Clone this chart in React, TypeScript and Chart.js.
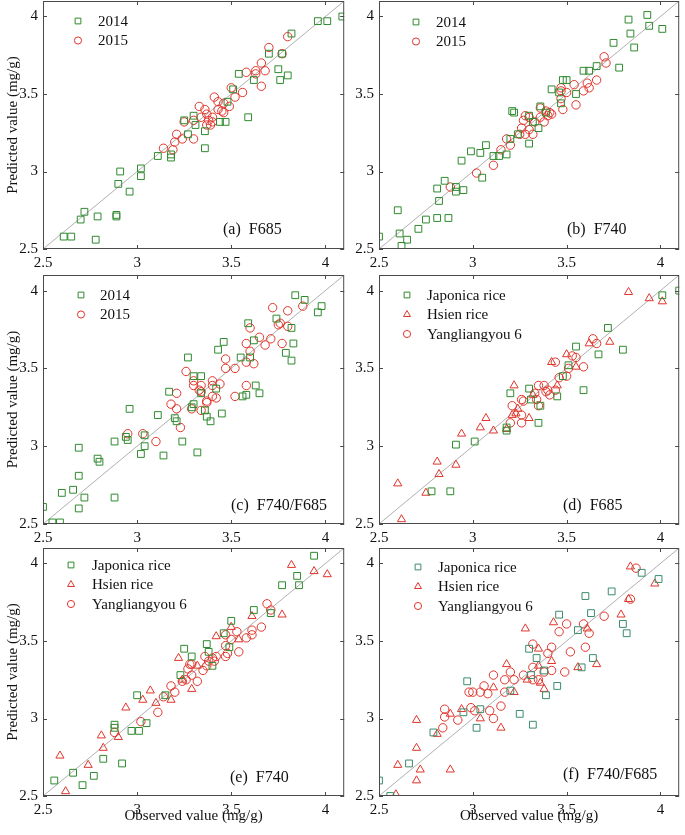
import React, { useEffect, useRef } from 'react';
import { Chart, registerables } from 'chart.js';

Chart.register(...registerables);

type Pt = [number, number];

const AXIS_MIN = 2.5;
const AXIS_MAX = 4.1;
const TICKS = [2.5, 3, 3.5, 4];
const TICK_LABELS = ['2.5', '3', '3.5', '4'];
const Y_TITLE = 'Predicted value (mg/g)';
const X_TITLE = 'Observed value (mg/g)';

const A_2014: Pt[] = [[2.61,2.58],[2.65,2.58],[2.70,2.69],[2.72,2.74],[2.79,2.71],[2.78,2.56],[2.89,2.71],[2.89,2.72],[2.90,2.92],[2.91,3.00],[2.96,2.87],[3.02,3.02],[3.02,2.97],[3.11,3.10],[3.18,3.09],[3.18,3.11],[3.25,3.33],[3.27,3.24],[3.30,3.36],[3.31,3.30],[3.36,3.26],[3.36,3.15],[3.44,3.32],[3.47,3.32],[3.48,3.45],[3.51,3.53],[3.54,3.63],[3.59,3.35],[3.62,3.59],[3.70,3.76],[3.75,3.66],[3.76,3.59],[3.77,3.76],[3.80,3.62],[3.82,3.89],[3.96,3.97],[4.01,3.97],[4.09,4.00]];
const A_2015: Pt[] = [[3.14,3.15],[3.19,3.14],[3.20,3.19],[3.21,3.24],[3.24,3.21],[3.25,3.32],[3.30,3.21],[3.30,3.33],[3.33,3.42],[3.34,3.35],[3.36,3.40],[3.37,3.37],[3.37,3.30],[3.38,3.33],[3.39,3.30],[3.40,3.32],[3.40,3.35],[3.41,3.48],[3.43,3.40],[3.43,3.45],[3.45,3.39],[3.46,3.44],[3.46,3.38],[3.49,3.42],[3.50,3.54],[3.52,3.48],[3.56,3.51],[3.58,3.64],[3.63,3.63],[3.63,3.65],[3.66,3.70],[3.68,3.65],[3.66,3.55],[3.70,3.80],[3.77,3.76],[3.80,3.87]];

const B_2014: Pt[] = [[2.50,2.58],[2.60,2.75],[2.61,2.60],[2.62,2.52],[2.65,2.56],[2.71,2.63],[2.75,2.69],[2.81,2.70],[2.81,2.89],[2.82,2.81],[2.85,2.94],[2.87,2.70],[2.91,2.90],[2.91,2.87],[2.95,2.88],[2.94,3.07],[2.99,3.13],[3.04,3.12],[3.05,2.96],[3.07,3.17],[3.11,3.10],[3.14,3.10],[3.18,3.11],[3.21,3.39],[3.22,3.38],[3.20,3.21],[3.24,3.24],[3.30,3.18],[3.30,3.36],[3.32,3.32],[3.35,3.28],[3.36,3.42],[3.39,3.38],[3.42,3.53],[3.46,3.51],[3.47,3.44],[3.48,3.59],[3.50,3.59],[3.55,3.50],[3.59,3.65],[3.62,3.65],[3.66,3.68],[3.75,3.83],[3.78,3.67],[3.83,3.98],[3.84,3.89],[3.86,3.80],[3.93,4.01],[3.94,3.94],[4.01,3.92]];
const B_2015: Pt[] = [[2.88,2.90],[3.02,2.99],[3.11,3.04],[3.15,3.14],[3.18,3.21],[3.20,3.17],[3.25,3.24],[3.26,3.28],[3.27,3.33],[3.28,3.36],[3.28,3.24],[3.30,3.27],[3.30,3.35],[3.32,3.24],[3.33,3.32],[3.36,3.41],[3.36,3.35],[3.38,3.32],[3.39,3.39],[3.40,3.36],[3.41,3.38],[3.42,3.37],[3.47,3.54],[3.47,3.47],[3.47,3.52],[3.48,3.40],[3.50,3.51],[3.54,3.56],[3.55,3.43],[3.59,3.52],[3.61,3.57],[3.62,3.54],[3.66,3.59],[3.70,3.74],[3.71,3.70]];

const C_2014: Pt[] = [[2.50,2.61],[2.55,2.51],[2.59,2.51],[2.60,2.70],[2.66,2.72],[2.69,2.99],[2.69,2.81],[2.69,2.60],[2.72,2.67],[2.79,2.92],[2.80,2.90],[2.88,3.03],[2.88,2.67],[2.94,3.06],[2.95,3.04],[2.96,3.24],[3.02,2.95],[3.04,3.00],[3.04,3.07],[3.11,3.20],[3.14,2.94],[3.17,3.35],[3.20,3.18],[3.21,3.16],[3.24,3.03],[3.27,3.57],[3.29,3.25],[3.30,3.45],[3.30,3.27],[3.32,2.96],[3.34,3.45],[3.34,3.34],[3.36,3.23],[3.37,3.19],[3.39,3.16],[3.42,3.37],[3.43,3.62],[3.45,3.21],[3.46,3.67],[3.55,3.57],[3.56,3.32],[3.58,3.33],[3.59,3.79],[3.60,3.57],[3.62,3.68],[3.63,3.39],[3.65,3.34],[3.74,3.82],[3.79,3.60],[3.82,3.55],[3.82,3.76],[3.83,3.66],[3.84,3.97],[3.89,3.94],[3.96,3.86],[3.98,3.90]];
const C_2015: Pt[] = [[2.95,3.08],[3.03,3.08],[3.10,3.03],[3.18,3.27],[3.21,3.34],[3.21,3.24],[3.23,3.12],[3.26,3.48],[3.29,3.24],[3.30,3.42],[3.30,3.39],[3.33,3.36],[3.34,3.39],[3.34,3.35],[3.34,3.23],[3.37,3.28],[3.37,3.29],[3.40,3.42],[3.40,3.39],[3.40,3.32],[3.42,3.31],[3.44,3.40],[3.47,3.56],[3.47,3.50],[3.52,3.50],[3.52,3.32],[3.58,3.66],[3.58,3.39],[3.58,3.54],[3.60,3.61],[3.60,3.76],[3.62,3.53],[3.65,3.70],[3.68,3.65],[3.71,3.69],[3.72,3.89],[3.75,3.78],[3.76,3.79],[3.77,3.66],[3.80,3.87],[3.80,3.77],[3.88,3.90]];

const D_JAPONICA: Pt[] = [[2.78,2.71],[2.88,2.71],[2.91,3.01],[3.01,3.03],[3.18,3.12],[3.18,3.10],[3.20,3.34],[3.30,3.37],[3.31,3.30],[3.36,3.26],[3.35,3.15],[3.45,3.32],[3.48,3.45],[3.51,3.52],[3.55,3.64],[3.59,3.36],[3.67,3.59],[3.72,3.76],[3.80,3.62],[4.01,3.97],[4.10,4.00]];
const D_HSIEN: Pt[] = [[2.60,2.76],[2.62,2.53],[2.75,2.70],[2.81,2.90],[2.82,2.82],[2.91,2.88],[2.94,3.08],[3.04,3.12],[3.07,3.18],[3.11,3.10],[3.18,3.11],[3.21,3.20],[3.22,3.39],[3.23,3.21],[3.24,3.24],[3.30,3.18],[3.32,3.33],[3.42,3.54],[3.45,3.39],[3.50,3.59],[3.55,3.51],[3.62,3.66],[3.73,3.67],[3.83,3.99],[3.94,3.95],[4.01,3.93]];
const D_YLY6: Pt[] = [[3.20,3.15],[3.21,3.26],[3.26,3.20],[3.26,3.15],[3.26,3.30],[3.27,3.29],[3.33,3.34],[3.34,3.30],[3.35,3.39],[3.35,3.26],[3.38,3.39],[3.39,3.35],[3.40,3.36],[3.41,3.33],[3.44,3.36],[3.44,3.54],[3.46,3.44],[3.50,3.45],[3.51,3.50],[3.53,3.58],[3.55,3.57],[3.59,3.51],[3.64,3.69],[3.66,3.66]];

const E_JAPONICA: Pt[] = [[2.56,2.60],[2.66,2.65],[2.71,2.57],[2.77,2.63],[2.82,2.74],[2.88,2.94],[2.88,2.96],[2.92,2.71],[2.97,2.92],[3.01,2.92],[3.00,3.15],[3.05,2.97],[3.15,3.15],[3.23,3.28],[3.25,3.45],[3.29,3.40],[3.37,3.48],[3.38,3.43],[3.40,3.34],[3.46,3.55],[3.49,3.46],[3.50,3.63],[3.62,3.70],[3.71,3.68],[3.77,3.86],[3.85,3.92],[3.86,3.86],[3.94,4.05]];
const E_HSIEN: Pt[] = [[2.59,2.76],[2.62,2.53],[2.74,2.70],[2.81,2.89],[2.82,2.81],[2.90,2.88],[2.94,3.07],[3.03,3.12],[3.07,3.18],[3.10,3.10],[3.18,3.12],[3.22,3.39],[3.24,3.25],[3.29,3.19],[3.32,3.34],[3.42,3.53],[3.50,3.59],[3.54,3.51],[3.61,3.66],[3.77,3.67],[3.82,3.99],[3.94,3.95],[4.01,3.93]];
const E_YLY6: Pt[] = [[2.88,2.91],[3.02,2.98],[3.11,3.04],[3.14,3.14],[3.18,3.21],[3.20,3.17],[3.24,3.24],[3.26,3.25],[3.27,3.32],[3.28,3.35],[3.29,3.28],[3.29,3.35],[3.32,3.24],[3.35,3.31],[3.36,3.40],[3.37,3.34],[3.38,3.37],[3.40,3.39],[3.41,3.37],[3.42,3.40],[3.47,3.47],[3.47,3.40],[3.48,3.42],[3.47,3.54],[3.50,3.51],[3.53,3.56],[3.54,3.43],[3.58,3.52],[3.61,3.54],[3.61,3.57],[3.66,3.59],[3.69,3.74],[3.71,3.70]];

const F_JAPONICA: Pt[] = [[2.50,2.60],[2.56,2.50],[2.66,2.71],[2.79,2.91],[2.95,3.04],[2.97,3.24],[3.02,2.94],[3.04,3.06],[3.20,3.18],[3.25,3.03],[3.30,3.45],[3.31,3.28],[3.32,2.96],[3.34,3.39],[3.38,3.31],[3.39,3.15],[3.45,3.21],[3.46,3.67],[3.56,3.57],[3.58,3.33],[3.60,3.79],[3.63,3.68],[3.64,3.39],[3.74,3.82],[3.80,3.61],[3.82,3.55],[3.90,3.94],[3.99,3.90]];
const F_HSIEN: Pt[] = [[2.59,2.51],[2.60,2.70],[2.70,2.60],[2.70,2.81],[2.70,2.99],[2.72,2.67],[2.81,2.90],[2.88,3.03],[2.88,2.67],[2.94,3.06],[3.04,3.00],[3.11,3.20],[3.15,2.94],[3.18,3.35],[3.22,3.17],[3.28,3.58],[3.29,3.25],[3.35,3.45],[3.35,3.34],[3.36,3.23],[3.38,3.19],[3.42,3.37],[3.43,3.62],[3.56,3.33],[3.61,3.58],[3.66,3.35],[3.79,3.67],[3.83,3.77],[3.84,3.98],[3.97,3.87]];
const F_YLY6: Pt[] = [[2.84,2.94],[2.85,3.01],[2.85,3.06],[2.92,2.99],[2.98,3.17],[2.99,3.07],[3.00,3.17],[3.01,3.05],[3.04,3.17],[3.06,3.21],[3.08,3.16],[3.09,3.05],[3.11,3.00],[3.11,3.28],[3.15,3.08],[3.17,3.17],[3.17,3.25],[3.20,3.30],[3.22,3.25],[3.27,3.28],[3.32,3.48],[3.32,3.33],[3.32,3.25],[3.35,3.25],[3.38,3.30],[3.40,3.42],[3.42,3.31],[3.42,3.46],[3.46,3.56],[3.49,3.30],[3.50,3.61],[3.52,3.43],[3.59,3.61],[3.60,3.46],[3.62,3.55],[3.70,3.66],[3.84,3.77],[3.87,3.97]];

const GREEN = '#2f8a2f';
const TEAL = '#3a8c6c';
const RED = '#e0342b';
const FRAME = '#4a4a4a';
const DIAG = '#9c9c9c';
const FONT_FAMILY = '"Liberation Serif", "Times New Roman", serif';

type Style = 'rect' | 'circle' | 'triangle';
interface Series { label: string; data: Pt[]; style: Style; color: string; }
interface PanelDef {
  label: string;
  series: Series[];
  col: number;
  row: number;
  legend: { dx: number; dy: number; tx: number };
  tag: { dx: number; dy: number };
}

const RADIUS: Record<Style, number> = { rect: 4.8, circle: 4.2, triangle: 4.7 };

const PANELS: PanelDef[] = [
  { label: '(a)  F685', col: 0, row: 0, legend: { dx: 35, dy: 20, tx: 55 }, tag: { dx: 180, dy: 19 },
    series: [ { label: '2014', data: A_2014, style: 'rect', color: GREEN }, { label: '2015', data: A_2015, style: 'circle', color: RED } ] },
  { label: '(b)  F740', col: 1, row: 0, legend: { dx: 37, dy: 21, tx: 57 }, tag: { dx: 188, dy: 19 },
    series: [ { label: '2014', data: B_2014, style: 'rect', color: GREEN }, { label: '2015', data: B_2015, style: 'circle', color: RED } ] },
  { label: '(c)  F740/F685', col: 0, row: 1, legend: { dx: 38, dy: 20, tx: 57 }, tag: { dx: 188, dy: 18 },
    series: [ { label: '2014', data: C_2014, style: 'rect', color: GREEN }, { label: '2015', data: C_2015, style: 'circle', color: RED } ] },
  { label: '(d)  F685', col: 1, row: 1, legend: { dx: 28, dy: 20, tx: 48 }, tag: { dx: 184, dy: 18 },
    series: [ { label: 'Japonica rice', data: D_JAPONICA, style: 'rect', color: GREEN }, { label: 'Hsien rice', data: D_HSIEN, style: 'triangle', color: RED }, { label: 'Yangliangyou 6', data: D_YLY6, style: 'circle', color: RED } ] },
  { label: '(e)  F740', col: 0, row: 2, legend: { dx: 28, dy: 17, tx: 49 }, tag: { dx: 187, dy: 18 },
    series: [ { label: 'Japonica rice', data: E_JAPONICA, style: 'rect', color: GREEN }, { label: 'Hsien rice', data: E_HSIEN, style: 'triangle', color: RED }, { label: 'Yangliangyou 6', data: E_YLY6, style: 'circle', color: RED } ] },
  { label: '(f)  F740/F685', col: 1, row: 2, legend: { dx: 39, dy: 19, tx: 59 }, tag: { dx: 184, dy: 21 },
    series: [ { label: 'Japonica rice', data: F_JAPONICA, style: 'rect', color: TEAL }, { label: 'Hsien rice', data: F_HSIEN, style: 'triangle', color: RED }, { label: 'Yangliangyou 6', data: F_YLY6, style: 'circle', color: RED } ] },
];

// layout: padTop is kept larger than Chart.js's own minimum top padding so the plot top is predictable
const PAD_TOP = 10;
const COLS = [
  { left: 0, width: 350, axisW: 43, padRight: 5 },
  { left: 350, width: 335, axisW: 29, padRight: 4 },
];
const ROWS = [
  { plotTop: 1, plotBottom: 249, axisH: 23 },
  { plotTop: 275, plotBottom: 524, axisH: 23 },
  { plotTop: 548, plotBottom: 796, axisH: 39 },
];

function drawMarker(ctx: CanvasRenderingContext2D, style: Style, x: number, y: number, r: number) {
  ctx.beginPath();
  if (style === 'rect') {
    const s = Math.SQRT1_2 * r;
    ctx.rect(x - s, y - s, 2 * s, 2 * s);
  } else if (style === 'circle') {
    ctx.arc(x, y, r, 0, Math.PI * 2);
  } else {
    for (let i = 0; i < 3; i++) {
      const a = -Math.PI / 2 + i * (2 * Math.PI / 3);
      const px = x + Math.cos(a) * r;
      const py = y + Math.sin(a) * r;
      if (i === 0) ctx.moveTo(px, py); else ctx.lineTo(px, py);
    }
    ctx.closePath();
  }
  ctx.stroke();
}

const decoPlugin = {
  id: 'deco',
  afterDraw(chart: any, _args: any, opts: any) {
    const { ctx, chartArea } = chart;
    const { left, top, right, bottom } = chartArea;
    const xs = chart.scales.x;
    const ys = chart.scales.y;
    const panel: PanelDef = opts.panel;
    ctx.save();
    ctx.strokeStyle = FRAME;
    ctx.lineWidth = 1;
    ctx.strokeRect(left + 0.5, top + 0.5, right - left - 1, bottom - top - 1);
    const TL = 4;
    ctx.beginPath();
    TICKS.forEach((v) => {
      const px = Math.round(xs.getPixelForValue(v)) + 0.5;
      ctx.moveTo(px, bottom); ctx.lineTo(px, bottom - TL);
      ctx.moveTo(px, top); ctx.lineTo(px, top + TL);
      const py = Math.round(ys.getPixelForValue(v)) + 0.5;
      ctx.moveTo(left, py); ctx.lineTo(left + TL, py);
      ctx.moveTo(right, py); ctx.lineTo(right - TL, py);
    });
    ctx.stroke();

    ctx.font = `15px ${FONT_FAMILY}`;
    ctx.textBaseline = 'middle';
    ctx.textAlign = 'left';
    panel.series.forEach((s, i) => {
      const my = top + panel.legend.dy + i * 19.5;
      ctx.strokeStyle = s.color;
      ctx.lineWidth = 1;
      drawMarker(ctx, s.style, left + panel.legend.dx, my, RADIUS[s.style] * 0.85);
      ctx.fillStyle = '#111';
      ctx.fillText(s.label, left + panel.legend.tx, my + 1);
    });

    ctx.font = `16px ${FONT_FAMILY}`;
    ctx.fillStyle = '#111';
    ctx.fillText(panel.label, left + panel.tag.dx, bottom - panel.tag.dy);
    ctx.restore();
  },
};

function Panel({ panel }: { panel: PanelDef }) {
  const ref = useRef<HTMLCanvasElement>(null);
  const col = COLS[panel.col];
  const row = ROWS[panel.row];
  const canvasTop = row.plotTop - PAD_TOP;
  const canvasHeight = row.plotBottom + row.axisH - canvasTop;
  useEffect(() => {
    if (!ref.current) return;
    const tickFont = { family: FONT_FAMILY, size: 15 };
    const fmt = (v: any) => {
      const i = TICKS.indexOf(Number(v));
      return i >= 0 ? TICK_LABELS[i] : '';
    };
    const chart = new Chart(ref.current, {
      type: 'scatter',
      data: {
        datasets: [
          {
            type: 'line',
            label: '1:1',
            data: [{ x: AXIS_MIN, y: AXIS_MIN }, { x: AXIS_MAX, y: AXIS_MAX }],
            borderColor: DIAG,
            borderWidth: 0.8,
            pointRadius: 0,
            order: 5,
          } as any,
          ...panel.series.map((s) => ({
            label: s.label,
            data: s.data.map(([x, y]) => ({ x, y })),
            pointStyle: s.style,
            pointRadius: RADIUS[s.style],
            pointHoverRadius: RADIUS[s.style],
            borderColor: s.color,
            backgroundColor: 'rgba(0,0,0,0)',
            pointBorderWidth: 1,
            borderWidth: 1,
            order: 1,
          })),
        ],
      },
      options: {
        animation: false,
        responsive: false,
        devicePixelRatio: 1,
        events: [],
        layout: { padding: { left: 0, top: PAD_TOP, right: col.padRight, bottom: 0 } },
        plugins: {
          legend: { display: false },
          tooltip: { enabled: false },
          deco: { panel },
        } as any,
        scales: {
          x: {
            type: 'linear',
            position: 'bottom',
            min: AXIS_MIN,
            max: AXIS_MAX,
            grid: { display: false, drawTicks: false },
            border: { display: false },
            ticks: { font: tickFont, color: '#111', padding: 5, autoSkip: false, maxRotation: 0, callback: fmt },
            afterBuildTicks: (s: any) => { s.ticks = TICKS.map((v) => ({ value: v })); },
            afterFit: (s: any) => { s.height = row.axisH; s.paddingLeft = 0; s.paddingRight = 0; s.paddingTop = 0; s.paddingBottom = 0; },
            title: panel.row === 2
              ? { display: true, text: X_TITLE, font: { family: FONT_FAMILY, size: 15 }, color: '#111', padding: { top: 0, bottom: 10 } }
              : { display: false },
          },
          y: {
            type: 'linear',
            position: 'left',
            min: AXIS_MIN,
            max: AXIS_MAX,
            grid: { display: false, drawTicks: false },
            border: { display: false },
            ticks: { font: tickFont, color: '#111', padding: 5, autoSkip: false, callback: fmt },
            afterBuildTicks: (s: any) => { s.ticks = TICKS.map((v) => ({ value: v })); },
            afterFit: (s: any) => { s.width = col.axisW; s.paddingLeft = 0; s.paddingRight = 0; s.paddingTop = 0; s.paddingBottom = 0; },
            title: panel.col === 0
              ? { display: true, text: Y_TITLE, font: { family: FONT_FAMILY, size: 15 }, color: '#111', padding: { top: 4, bottom: 0 } }
              : { display: false },
          },
        },
      } as any,
      plugins: [decoPlugin],
    });
    return () => chart.destroy();
  }, [panel]);
  return (
    <canvas
      ref={ref}
      width={col.width}
      height={canvasHeight}
      style={{ position: 'absolute', left: col.left, top: canvasTop, width: col.width, height: canvasHeight }}
    />
  );
}

export default function App() {
  return (
    <div style={{ position: 'absolute', left: 0, top: 0, width: 685, height: 835, background: '#fff', overflow: 'hidden' }}>
      {PANELS.map((p) => (
        <Panel key={p.label} panel={p} />
      ))}
    </div>
  );
}
